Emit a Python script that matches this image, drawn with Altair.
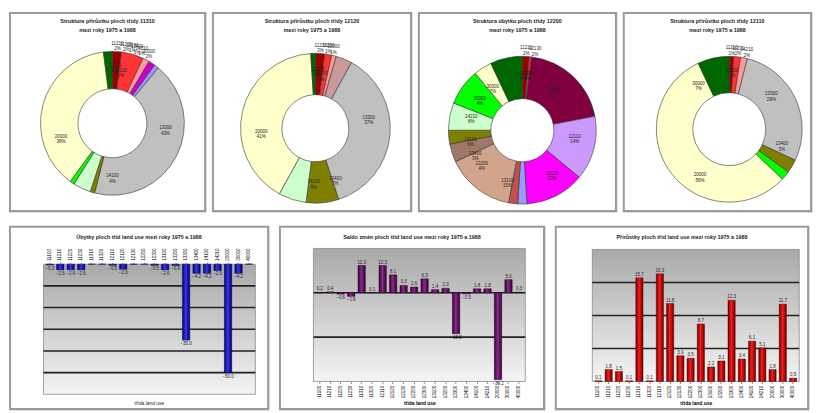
import altair as alt
import pandas as pd

FONT = "Liberation Sans"

# ---------------- data ----------------
codes = ["11100", "11210", "11220", "11230", "11310", "11320", "12110", "12120", "12130", "12200",
         "12300", "13100", "13200", "13300", "13400", "14100", "14210", "20000", "30000", "40000"]
colors = ["#400000", "#990000", "#FF3333", "#FF9999", "#800040", "#CC00CC", "#CC99FF", "#FF00FF", "#9999FF", "#CC9999",
          "#C0504D", "#D2A48C", "#A0786A", "#C0C0C0", "#808000", "#CCFFCC", "#00FF00", "#FFFFCC", "#006600", "#99CCFF"]

gains = [0.1, 1.8, 1.5, 0.1, 15.7, 0.1, 16.3, 11.8, 3.9, 3.5, 8.7, 2.2, 3.1, 12.3, 3.4, 6.1, 5.1, 1.8, 11.7, 0.5]
losses = [-0.3, -2.6, -2.6, -2.6, 0, 0, -0.5, -2.3, 0, 0, -0.5, -2.6, -0.6, -35.0, -4.2, -4.2, -2.9, -50.0, -4.2, 0]
saldo = [0.2, 0.4, -0.6, -1.6, 12.3, 0.1, 12.3, 8.1, 3.3, 2.6, 6.3, 1.4, 2.0, -18.5, -0.5, 1.8, 1.8, -39.2, 5.9, 0.3]

d1_codes = ["11210", "11220", "11230", "11320", "12130", "13300", "13400", "14100", "14210", "20000", "30000"]
d1_pct = [2, 5, 1.5, 1.5, 1, 43, 1, 4, 1, 38, 2]
d2_codes = ["11210", "11220", "11230", "12200", "13300", "13400", "14100", "20000", "30000"]
d2_pct = [2, 1.5, 1, 3.5, 37, 7, 6, 41, 1]
d3_codes = ["11210", "11220", "11310", "12110", "12120", "12130", "12300", "13100", "13200", "13400",
            "14100", "14210", "20000", "30000"]
d3_pct = [1.5, 0.5, 20, 14, 13, 2, 2, 15, 4, 3, 6, 8, 4, 7]
d4_codes = ["11210", "11220", "11230", "13300", "13400", "14210", "20000", "30000"]
d4_pct = [1, 1.5, 1.5, 28, 3, 2, 56, 7]

donut_titles = [
    "Struktura přírůstku ploch třídy 11310\nmezi roky 1975 a 1988",
    "Struktura přírůstku ploch třídy 12120\nmezi roky 1975 a 1988",
    "Struktura úbytku ploch třídy 12200\nmezi roky 1975 a 1988",
    "Struktura přírůstku ploch třídy 12110\nmezi roky 1975 a 1988",
]
bar_titles = [
    "Úbytky ploch tříd land use mezi roky 1975 a 1988",
    "Saldo změn ploch tříd land use mezi roky 1975 a 1988",
    "Přírůstky ploch tříd land use mezi roky 1975 a 1988",
]
y_title = "plocha (ha)"
x_title = "třída land use"

one = pd.DataFrame({"a": [0]})


def frame(x0, x1, y0, y1):
    return alt.Chart(one).mark_rect(filled=False, stroke="#9a9a9a", strokeWidth=2).encode(
        x=alt.value(x0), x2=alt.value(x1), y=alt.value(y0), y2=alt.value(y1))


def donut(dc, dp, title, W, H, cx, cy, ri, ro):
    df = pd.DataFrame({"code": dc, "pct": dp, "idx": list(range(len(dc)))})
    df["label"] = [f"{c}\n{int(round(p + 0.001))}%" for c, p in zip(dc, dp)]
    radii = []
    k = 0
    for i, p in enumerate(dp):
        if p >= 3:
            radii.append((ri + ro) / 2)
            k = 0
        else:
            radii.append(ro + 8 if k % 2 == 0 else (ri + ro) / 2 + 4)
            k += 1
    df["lr"] = radii
    base = alt.Chart(df)
    theta = alt.Theta("pct:Q", stack=True)
    order = alt.Order("idx:Q")
    arc = base.mark_arc(innerRadius=ri, outerRadius=ro, stroke="#333", strokeWidth=0.6).encode(
        theta=theta, order=order,
        color=alt.Color("code:N", scale=alt.Scale(domain=codes, range=colors), legend=None),
        x=alt.value(cx), y=alt.value(cy))
    txt = base.mark_text(fontSize=4.6, lineBreak="\n", color="#222", font=FONT, lineHeight=5.3).encode(
        theta=theta, order=order, radius=alt.Radius("lr:Q", scale=None), text="label:N",
        x=alt.value(cx), y=alt.value(cy))
    ttl = alt.Chart(one).mark_text(fontSize=5.5, fontWeight="bold", lineBreak="\n", lineHeight=9,
                                   baseline="middle", font=FONT, color="#222").encode(
        text=alt.value(title), x=alt.value(W / 2), y=alt.value(9))
    return alt.layer(frame(1, W - 1, 1, H - 1), arc, txt, ttl).properties(width=W, height=H)


def vgrad():
    return alt.Gradient(gradient="linear", x1=0, x2=0, y1=0, y2=1,
                        stops=[alt.GradientStop(color="#a9a9a9", offset=0),
                               alt.GradientStop(color="#f4f4f4", offset=1)])


def hgrad(dark, mid):
    return alt.Gradient(gradient="linear", x1=0, x2=1, y1=0, y2=0,
                        stops=[alt.GradientStop(color=dark, offset=0),
                               alt.GradientStop(color=mid, offset=0.45),
                               alt.GradientStop(color=dark, offset=1)])


def barpanel(vals, dark, mid, domain, ticks, grid_ticks, W, H, L, R, T, B, title, top_axis):
    TW, TH = L + W + R, T + H + B
    df = pd.DataFrame({"code": codes, "val": vals})
    lab_expr = "datum.value == 0 ? '0' : format(datum.value, '.1f')"
    xscale = alt.Scale(domain=codes, paddingInner=0.3, paddingOuter=0.25, range=[L, L + W])
    yscale = alt.Scale(domain=domain, nice=False, zero=True, range=[T + H, T])
    xenc = alt.X("code:N", sort=codes, scale=xscale,
                 axis=alt.Axis(orient="top" if top_axis else "bottom", labelAngle=270,
                               offset=-T if top_axis else -B,
                               title=None if top_axis else x_title, titlePadding=3,
                               labelFontSize=4.5, titleFontSize=5, ticks=True, tickSize=2,
                               labelPadding=2, domain=False))
    yenc = alt.Y("val:Q", scale=yscale,
                 axis=alt.Axis(values=ticks, grid=False, title=y_title, labelExpr=lab_expr, offset=-L,
                               labelFontSize=4.5, titleFontSize=5, tickSize=3, titlePadding=4))
    bg = alt.Chart(one).mark_rect(fill=vgrad(), stroke="#888", strokeWidth=0.8).encode(
        x=alt.value(L), x2=alt.value(L + W), y=alt.value(T), y2=alt.value(T + H))
    grid = alt.Chart(pd.DataFrame({"t": grid_ticks})).mark_rule(color="#222", strokeWidth=1.6).encode(
        y=alt.Y("t:Q", axis=None, scale=yscale), x=alt.value(L), x2=alt.value(L + W))
    bars = alt.Chart(df).mark_bar(fill=hgrad(dark, mid), stroke=dark, strokeWidth=0.5).encode(
        x=xenc, y=yenc)
    pos = alt.Chart(df).transform_filter("datum.val > 0").mark_text(
        fontSize=4.5, baseline="bottom", dy=-1, color="#222", font=FONT).encode(
        x=alt.X("code:N", sort=codes), y=alt.Y("val:Q"), text=alt.Text("val:Q", format=".1f"))
    neg = alt.Chart(df).transform_filter("datum.val < 0").mark_text(
        fontSize=4.5, baseline="top", dy=1, color="#222", font=FONT).encode(
        x=alt.X("code:N", sort=codes), y=alt.Y("val:Q"), text=alt.Text("val:Q", format=".1f"))
    ttl = alt.Chart(one).mark_text(fontSize=5.5, fontWeight="bold", font=FONT, color="#222").encode(
        text=alt.value(title), x=alt.value(TW / 2), y=alt.value(11))
    layers = [frame(1, TW - 1, 1, TH - 1), bg, grid, bars, pos, neg, ttl]
    if top_axis:
        xt = alt.Chart(one).mark_text(fontSize=5, font=FONT, color="#222").encode(
            text=alt.value(x_title), x=alt.value(L + W / 2), y=alt.value(T + H + 9))
        layers.append(xt)
    return alt.layer(*layers).properties(width=TW, height=TH)


top = alt.hconcat(
    donut(d1_codes, d1_pct, donut_titles[0], 200, 203, 105, 113, 35, 73),
    donut(d2_codes, d2_pct, donut_titles[1], 203, 203, 105, 118, 34, 76),
    donut(d3_codes, d3_pct, donut_titles[2], 202, 203, 106, 120, 32, 75),
    donut(d4_codes, d4_pct, donut_titles[3], 192, 203, 108, 119, 37, 74),
    spacing=4)

bottom = alt.hconcat(
    barpanel(losses, "#000060", "#3535F0", [-60, 0], [0, -10, -20, -30, -40, -50, -60],
             [-10, -20, -30, -40, -50], 215, 132, 35, 14, 39, 16, bar_titles[0], True),
    barpanel(saldo, "#300030", "#8A2A8A", [-40, 20], [20, 0, -20, -40],
             [0, -20], 215, 135, 35, 20, 23, 29, bar_titles[1], False),
    barpanel(gains, "#600000", "#FF1A1A", [0, 20], [0, 5, 10, 15, 20],
             [5, 10, 15], 210, 134, 38, 10, 24, 29, bar_titles[2], False),
    spacing=8)

chart = alt.vconcat(top, bottom, spacing=12).properties(padding=0).configure_view(
    stroke=None).configure_axis(
    labelFont=FONT, titleFont=FONT, labelColor="#333", titleColor="#333",
    domainColor="#555", tickColor="#555").configure(background="white")

chart.save("out.html", embed_options={"renderer": "svg", "actions": False})
